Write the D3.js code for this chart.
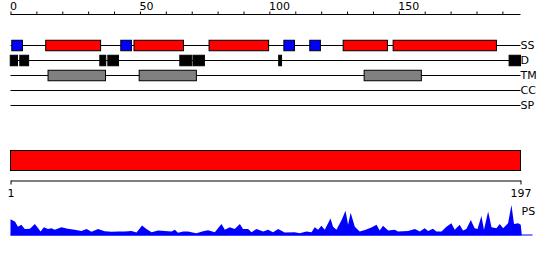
<!DOCTYPE html>
<html>
<head>
<meta charset="utf-8">
<script src="https://cdn.jsdelivr.net/npm/d3@7"></script>
<style>
  body { margin: 0; background: white; }
  svg { font-family: "DejaVu Sans", sans-serif; }
</style>
</head>
<body>
<svg id="chart" width="550" height="260"></svg>
<script>
// sequence length
const seqLength = 197;

// track names, top to bottom
const trackNames = ['SS', 'D', 'TM', 'CC', 'SP'];

// secondary structure segments (start, end, type)  H = red, E = blue
const ssStart = [0.5, 13.6, 42.6, 47.7, 76.7, 105.6, 115.6, 128.5, 147.8];
const ssEnd   = [4.6, 34.8, 46.7, 66.8, 99.7, 109.7, 119.7, 145.6, 187.7];
const ssType  = ['E', 'H', 'E', 'H', 'H', 'E', 'E', 'H', 'H'];

// disorder segments
const disStart = [-0.1, 3.6, 34.5, 37.6, 65.4, 70.5, 103.6, 192.6];
const disEnd   = [2.7, 7.0, 36.8, 41.7, 70.0, 74.9, 104.7, 197];

// transmembrane segments
const tmStart = [14.5, 49.7, 136.6];
const tmEnd   = [36.7, 71.8, 158.7];

// domain bar
const domStart = [1];
const domEnd = [197];

// PS profile, residue position and score
const psPos = [0, 0.9, 1.7, 2.9, 4.2, 5.5, 7.5, 9.4, 10.7, 11.6, 12.9, 14.5, 15.8, 17.1, 19.7,
  22.1, 24.8, 27.4, 29.4, 31.3, 33.8, 36.4, 39, 41.6, 44.1, 46.7, 48.7, 50.8, 52.5, 54.5,
  57, 59.6, 62.2, 63.5, 64.7, 66.7, 68.5, 71.8, 74.4, 76.3, 78.9, 81.5, 82.8, 84.7, 86.6,
  88.6, 89.8, 91.8, 93.1, 95, 97.6, 99.5, 101.4, 103.4, 105.9, 109.8, 111.7, 114.3, 116.3,
  117.5, 118.8, 120.1, 121.4, 123.6, 124.6, 125.9, 127.9, 129.4, 130.4, 131.4, 133, 134.9,
  136.9, 139.4, 141.4, 142.6, 143.9, 145.9, 148.4, 149.7, 153.6, 156.2, 158.1, 160, 161.3,
  163.2, 164.5, 166.5, 168.4, 170.3, 171.6, 173.5, 174.8, 176.1, 177.8, 179.3, 180.4, 181.9,
  182.9, 184.5, 185.8, 187.7, 189, 190.3, 192.2, 193.5, 194.5, 196.1, 197.1, 197.5];
const psVal = [0.53, 0.49, 0.46, 0.29, 0.35, 0.21, 0.22, 0.38, 0.24, 0.13, 0.27, 0.21, 0.24, 0.19, 0.27,
  0.22, 0.19, 0.15, 0.21, 0.12, 0.21, 0.14, 0.12, 0.13, 0.13, 0.15, 0.10, 0.33, 0.21, 0.11,
  0.16, 0.15, 0.13, 0.19, 0.09, 0.13, 0.13, 0.07, 0.14, 0.17, 0.11, 0.38, 0.19, 0.27, 0.21,
  0.38, 0.21, 0.21, 0.11, 0.21, 0.13, 0.19, 0.11, 0.21, 0.10, 0.11, 0.07, 0.13, 0.11,
  0.27, 0.19, 0.32, 0.19, 0.56, 0.29, 0.19, 0.51, 0.81, 0.35, 0.75, 0.29, 0.13,
  0.18, 0.26, 0.35, 0.16, 0.32, 0.16, 0.19, 0.13, 0.15, 0.21, 0.13, 0.24, 0.15,
  0.22, 0.13, 0.13, 0.29, 0.40, 0.19, 0.35, 0.16, 0.21, 0.51, 0.24, 0.21, 0.64,
  0.19, 0.79, 0.27, 0.24, 0.38, 0.24, 0.40, 1.0, 0.38, 0.40, 0.35, 0];

const colors = {H: '#ff0000', E: '#0000ff', D: '#000000', TM: '#808080', dom: '#ff0000', PS: '#0000ff'};

let svg = d3.select('#chart');

let x = d3.scaleLinear().domain([0, seqLength]).range([10.5, 520.5]);
let xBottom = d3.scaleLinear().domain([1, seqLength]).range([10.5, 520.5]);

// tracks y position
let yTrack = d3.scalePoint().domain(trackNames).range([45.5, 105.5]);
let boxH = 10.5;

// top axis
let topAxis = d3.axisTop(x)
  .tickValues(d3.range(0, seqLength, 10))
  .tickSize(3)
  .tickSizeOuter(0)
  .tickFormat(d => d % 50 === 0 ? d : '');

let gTop = svg.append('g')
  .attr('transform', 'translate(0,14.5)')
  .call(topAxis);
gTop.select('.domain').attr('d', `M${x(0)},0H${x(seqLength)}`).attr('stroke', '#000');
gTop.selectAll('.tick line').attr('stroke', '#000');
gTop.selectAll('.tick text')
  .attr('text-anchor', 'start')
  .attr('x', -1)
  .attr('y', -5)
  .attr('fill', '#000')
  .attr('font-size', 11)
  .attr('font-family', '"DejaVu Sans", sans-serif');

// track lines + labels
let tracks = svg.append('g');
tracks.selectAll('line')
  .data(trackNames)
  .enter()
  .append('line')
    .attr('x1', x(0))
    .attr('x2', x(seqLength))
    .attr('y1', d => yTrack(d))
    .attr('y2', d => yTrack(d))
    .attr('stroke', '#000')
    .attr('stroke-width', 1);

tracks.selectAll('text')
  .data(trackNames)
  .enter()
  .append('text')
    .attr('x', x(seqLength))
    .attr('y', d => yTrack(d))
    .attr('dy', '0.36em')
    .attr('font-size', 11)
    .text(d => d);

function drawBoxes(starts, ends, track, fill, stroke) {
  let segs = starts.map((s, i) => ({s: s, e: ends[i], i: i}));
  svg.append('g').selectAll('rect')
    .data(segs)
    .enter()
    .append('rect')
      .attr('x', d => x(d.s))
      .attr('width', d => x(d.e) - x(d.s))
      .attr('y', yTrack(track) - boxH / 2)
      .attr('height', boxH)
      .attr('fill', typeof fill === 'function' ? fill : () => fill)
      .attr('stroke', stroke)
      .attr('stroke-width', 1);
}

drawBoxes(ssStart, ssEnd, 'SS', d => colors[ssType[d.i]], '#000');
drawBoxes(disStart, disEnd, 'D', colors.D, '#000');
drawBoxes(tmStart, tmEnd, 'TM', colors.TM, '#000');

// domain bar
svg.append('g').selectAll('rect')
  .data(domStart.map((s, i) => ({s: s, e: domEnd[i]})))
  .enter()
  .append('rect')
    .attr('x', d => xBottom(d.s))
    .attr('width', d => xBottom(d.e) - xBottom(d.s))
    .attr('y', 150.5)
    .attr('height', 20)
    .attr('fill', colors.dom)
    .attr('stroke', '#000');

// bottom axis
let bottomAxis = d3.axisBottom(xBottom)
  .tickValues([1, seqLength])
  .tickSize(4)
  .tickSizeOuter(0);
let gBot = svg.append('g')
  .attr('transform', 'translate(0,180.5)')
  .call(bottomAxis);
gBot.select('.domain').attr('stroke', '#000');
gBot.selectAll('.tick line').attr('stroke', '#000');
gBot.selectAll('.tick text')
  .attr('y', 9)
  .attr('fill', '#000')
  .attr('font-size', 11)
  .attr('font-family', '"DejaVu Sans", sans-serif');

// PS profile
let yPS = d3.scaleLinear().domain([0, 1]).range([235.5, 205]);
let psData = psPos.map((p, i) => ({p: p, v: psVal[i]}));

svg.append('line')
  .attr('x1', x(0))
  .attr('x2', x(seqLength) + 12)
  .attr('y1', yPS(0) - 0.5)
  .attr('y2', yPS(0) - 0.5)
  .attr('stroke', colors.PS)
  .attr('stroke-width', 1);

svg.append('path')
  .datum(psData)
  .attr('fill', colors.PS)
  .attr('d', d3.area()
    .x(d => x(d.p))
    .y0(yPS(0))
    .y1(d => yPS(d.v)));

svg.append('text')
  .attr('x', x(seqLength) + 1)
  .attr('y', 211)
  .attr('dy', '0.36em')
  .attr('font-size', 11)
  .text('PS');
</script>
</body>
</html>
